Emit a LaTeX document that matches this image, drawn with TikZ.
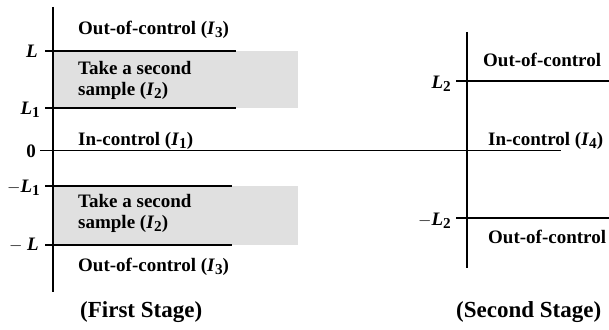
\documentclass[tikz,border=0pt]{standalone}
\usepackage{fontspec}
\setmainfont{Liberation Serif}
\newcommand\mvar[2]{\textit{#1}\raisebox{-0.35ex}{\scalebox{0.8}{#2}}}
\begin{document}
\begin{tikzpicture}[x=1pt,y=-1pt,
  txt/.style={font=\fontsize{19}{21}\selectfont\bfseries, inner sep=0pt, anchor=west, align=left},
  lab/.style={font=\fontsize{19}{21}\selectfont\bfseries, inner sep=0pt, anchor=east},
  captiontext/.style={font=\fontsize{23}{25}\selectfont\bfseries, inner sep=0pt, anchor=west},
  axis/.style={line width=1.8pt},
  level/.style={line width=1.8pt},
  zero/.style={line width=0.9pt},
  shade/.style={fill=black!12, draw=none}]
\useasboundingbox (0,0) rectangle (609,329);
% coordinates
\coordinate (a1t) at (53,7);
\coordinate (a1b) at (53,292);
\coordinate (Ls) at (45,51);   \coordinate (Le) at (236,51);
\coordinate (L1s) at (45,108); \coordinate (L1e) at (236,108);
\coordinate (mL1s) at (45,186); \coordinate (mL1e) at (232,186);
\coordinate (mLs) at (45,245);  \coordinate (mLe) at (232,245);
\coordinate (zs) at (40,150); \coordinate (ze) at (561,150);
\coordinate (a2t) at (467,32);
\coordinate (a2b) at (467,268);
\coordinate (L2s) at (456,81); \coordinate (L2e) at (609,81);
\coordinate (mL2s) at (456,218); \coordinate (mL2e) at (609,218);
% shaded regions
\path[shade] (54,51) rectangle (298,108);
\path[shade] (54,186) rectangle (298,245);
% lines
\draw[zero] (zs) -- (ze);
\draw[axis] (a1t) -- (a1b);
\draw[level] (Ls) -- (Le);
\draw[level] (L1s) -- (L1e);
\draw[level] (mL1s) -- (mL1e);
\draw[level] (mLs) -- (mLe);
\draw[axis] (a2t) -- (a2b);
\draw[level] (L2s) -- (L2e);
\draw[level] (mL2s) -- (mL2e);
% axis labels
\node[lab] (lL) at (38,51) {\textit{L}};
\node[lab] (lL1) at (40,110) {\mvar{L}{1}};
\node[lab] (l0) at (36,151) {0};
\node[lab] (lmL1) at (40,188) {$-$\mvar{L}{1}};
\node[lab] (lmL) at (39,245) {$-$ \textit{L}};
\node[lab] (lL2) at (451,84) {\mvar{L}{2}};
\node[lab] (lmL2) at (451,221) {$-$\mvar{L}{2}};
% region texts first stage
\node[txt] (t1) at (78,30) {Out-of-control (\mvar{I}{3})};
\node[txt] (t2) at (78,80) {Take a second\\sample (\mvar{I}{2})};
\node[txt] (t3) at (78,141) {In-control (\mvar{I}{1})};
\node[txt] (t4) at (78,213) {Take a second\\sample (\mvar{I}{2})};
\node[txt] (t5) at (78,267) {Out-of-control (\mvar{I}{3})};
% second stage
\node[txt] (s1) at (483,60) {Out-of-control};
\node[txt] (s2) at (488,141) {In-control (\mvar{I}{4})};
\node[txt] (s3) at (488,237) {Out-of-control};
% captions
\node[captiontext] (c1) at (80,312) {(First Stage)};
\node[captiontext] (c2) at (456,312) {(Second Stage)};
\end{tikzpicture}
\end{document}
